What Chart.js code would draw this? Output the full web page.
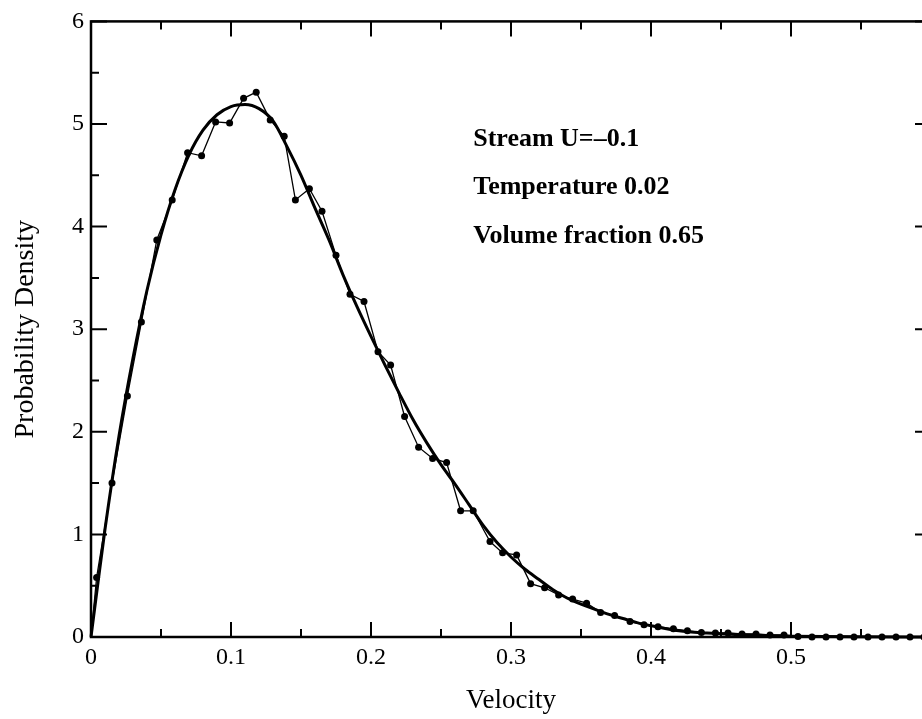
<!DOCTYPE html>
<html>
<head>
<meta charset="utf-8">
<script src="https://cdn.jsdelivr.net/npm/chart.js@4.4.1/dist/chart.umd.min.js"></script>
<style>
  html, body { margin: 0; padding: 0; background: #fff; overflow: hidden; }
  canvas { display: block; }
</style>
</head>
<body>
<canvas id="pdfChart" width="940" height="719"></canvas>
<script>
// Measured histogram (thin line with dots)
const velocity = [0, 0.004, 0.015, 0.026, 0.036, 0.047, 0.058, 0.069, 0.079, 0.089,
  0.099, 0.109, 0.118, 0.128, 0.138, 0.146, 0.156, 0.165, 0.175, 0.185,
  0.195, 0.205, 0.214, 0.224, 0.234, 0.244, 0.254, 0.264, 0.273, 0.285,
  0.294, 0.304, 0.314, 0.324, 0.334, 0.344, 0.354, 0.364, 0.374, 0.385,
  0.395, 0.405, 0.416, 0.426, 0.436, 0.446, 0.455, 0.465, 0.475, 0.485,
  0.495, 0.505, 0.515, 0.525, 0.535, 0.545, 0.555, 0.565, 0.575, 0.585, 0.595];
const density = [0, 0.58, 1.50, 2.35, 3.07, 3.87, 4.26, 4.72, 4.69, 5.02,
  5.01, 5.25, 5.31, 5.04, 4.88, 4.26, 4.37, 4.15, 3.72, 3.34,
  3.27, 2.78, 2.65, 2.15, 1.85, 1.74, 1.70, 1.23, 1.23, 0.93,
  0.82, 0.80, 0.52, 0.48, 0.41, 0.37, 0.33, 0.24, 0.21, 0.15,
  0.12, 0.10, 0.08, 0.06, 0.045, 0.04, 0.04, 0.03, 0.03, 0.02,
  0.02, 0.005, 0, 0, 0, 0, 0, 0, 0, 0, 0];

// Smooth fitted curve (thick line)
const fitVelocity = [0, 0.005, 0.01, 0.02, 0.03, 0.04, 0.05, 0.06, 0.07, 0.08, 0.09,
  0.10, 0.11, 0.12, 0.13, 0.14, 0.15, 0.16, 0.17, 0.18, 0.19,
  0.20, 0.21, 0.22, 0.23, 0.24, 0.25, 0.26, 0.27, 0.28, 0.29,
  0.30, 0.31, 0.32, 0.33, 0.34, 0.35, 0.36, 0.37, 0.38, 0.39,
  0.40, 0.42, 0.44, 0.46, 0.48, 0.50, 0.55, 0.60];
const fitDensity = [0, 0.53, 1.05, 1.96, 2.72, 3.38, 3.92, 4.36, 4.70, 4.94, 5.09,
  5.17, 5.19, 5.15, 5.03, 4.78, 4.50, 4.18, 3.87, 3.53, 3.22,
  2.93, 2.65, 2.38, 2.12, 1.89, 1.68, 1.49, 1.29, 1.09, 0.92,
  0.78, 0.66, 0.56, 0.46, 0.38, 0.32, 0.27, 0.22, 0.18, 0.14,
  0.11, 0.06, 0.038, 0.024, 0.014, 0.008, 0.002, 0];

const notes = ['Stream U=\u20130.1', 'Temperature 0.02', 'Volume fraction 0.65'];

const serif = '"Liberation Serif", "Times New Roman", serif';

// box with inward major/minor ticks on all four sides, plus the text block
const frameTicks = {
  id: 'frameTicks',
  afterDatasetsDraw(chart) {
    const { ctx, chartArea: a, scales: { x, y } } = chart;
    ctx.save();
    ctx.strokeStyle = '#000';
    ctx.lineWidth = 2.5;
    ctx.strokeRect(a.left, a.top, a.right - a.left, a.bottom - a.top);
    ctx.lineWidth = 2;
    ctx.beginPath();
    for (let i = 0; i <= 12; i++) {
      const px = x.getPixelForValue(i * 0.05);
      const len = i % 2 === 0 ? 15 : 8;
      ctx.moveTo(px, a.bottom); ctx.lineTo(px, a.bottom - len);
      ctx.moveTo(px, a.top); ctx.lineTo(px, a.top + len);
    }
    for (let i = 0; i <= 12; i++) {
      const py = y.getPixelForValue(i * 0.5);
      const len = i % 2 === 0 ? 16 : 8;
      ctx.moveTo(a.left, py); ctx.lineTo(a.left + len, py);
      ctx.moveTo(a.right, py); ctx.lineTo(a.right - len, py);
    }
    ctx.stroke();

    ctx.fillStyle = '#000';
    ctx.font = 'bold 26px ' + serif;
    ctx.textBaseline = 'alphabetic';
    const tx = x.getPixelForValue(0.273);
    notes.forEach((t, i) => {
      ctx.fillText(t, tx, y.getPixelForValue(4.79 - i * 0.473));
    });
    ctx.restore();
  }
};

new Chart(document.getElementById('pdfChart'), {
  type: 'line',
  data: {
    datasets: [{
      label: 'Simulation',
      data: velocity.map((v, i) => ({ x: v, y: density[i] })),
      borderColor: '#000',
      backgroundColor: '#000',
      borderWidth: 1.3,
      pointRadius: ctx => ctx.dataIndex === 0 ? 0 : 3.5,
      pointBorderWidth: 0,
      tension: 0,
      clip: false
    }, {
      label: 'Fit',
      data: fitVelocity.map((v, i) => ({ x: v, y: fitDensity[i] })),
      borderColor: '#000',
      borderWidth: 3,
      pointRadius: 0,
      cubicInterpolationMode: 'monotone',
      clip: false
    }]
  },
  options: {
    responsive: false,
    animation: false,
    layout: { padding: { top: 16, right: 9, left: 0, bottom: 0 } },
    plugins: { legend: { display: false }, tooltip: { enabled: false } },
    scales: {
      x: {
        type: 'linear',
        min: 0,
        max: 0.6,
        afterFit: s => { s.height = 82; },
        grid: { display: false, drawTicks: false },
        border: { display: false },
        ticks: {
          stepSize: 0.1,
          autoSkip: false,
          maxRotation: 0,
          padding: 6,
          color: '#000',
          font: { family: serif, size: 24 },
          callback: v => (v === 0 ? '0' : (v > 0.55 ? '' : v.toFixed(1)))
        },
        title: {
          display: true,
          text: 'Velocity',
          color: '#000',
          font: { family: serif, size: 27 },
          padding: { top: 0, bottom: 2 }
        }
      },
      y: {
        min: 0,
        max: 6,
        afterFit: s => { s.width = 91; },
        grid: { display: false, drawTicks: false },
        border: { display: false },
        ticks: {
          stepSize: 1,
          autoSkip: false,
          padding: 7,
          color: '#000',
          font: { family: serif, size: 24 }
        },
        title: {
          display: true,
          text: 'Probability Density',
          color: '#000',
          font: { family: serif, size: 28 },
          padding: { top: 9, bottom: 0 }
        }
      }
    }
  },
  plugins: [frameTicks]
});
</script>
</body>
</html>
